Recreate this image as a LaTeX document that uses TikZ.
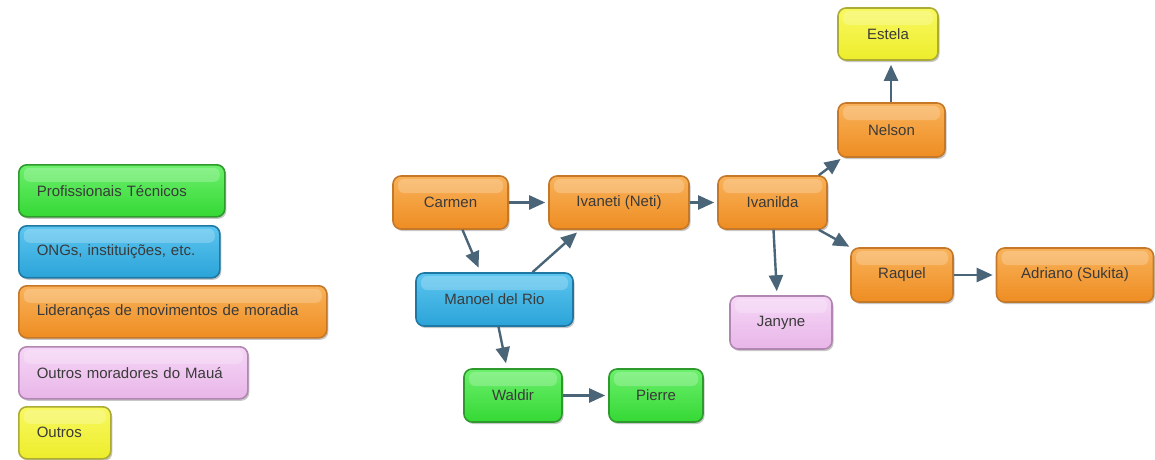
\documentclass[tikz,border=0pt]{standalone}
\usepackage{fontspec}
\setmainfont{Liberation Sans}
\usetikzlibrary{arrows.meta,shadows,calc}
\definecolor{txt}{HTML}{3A3A3A}
\definecolor{arr}{HTML}{4B6578}
\definecolor{orT}{HTML}{F9B25A}\definecolor{orB}{HTML}{EE8D22}\definecolor{orD}{HTML}{C47828}
\definecolor{grT}{HTML}{6CF06C}\definecolor{grB}{HTML}{35D835}\definecolor{grD}{HTML}{2E9A2E}
\definecolor{blT}{HTML}{5CC6F0}\definecolor{blB}{HTML}{2BA3D8}\definecolor{blD}{HTML}{1F78A3}
\definecolor{piT}{HTML}{F6D6F6}\definecolor{piB}{HTML}{E8B6E8}\definecolor{piD}{HTML}{B087B0}
\definecolor{yeT}{HTML}{F8F860}\definecolor{yeB}{HTML}{EDED2C}\definecolor{yeD}{HTML}{ABAB35}
\tikzset{
  box/.style={rounded corners=8pt, line width=1.6pt, text=txt,
    font=\fontsize{15}{18}\selectfont, inner sep=0pt,
    drop shadow={shadow xshift=1.5pt,shadow yshift=-2pt,opacity=0.22,fill=black},
    path picture={\fill[white,opacity=0.22,rounded corners=6pt]
      ([xshift=5pt,yshift=-3pt]path picture bounding box.north west) rectangle
      ([xshift=-5pt,yshift=-17pt]path picture bounding box.north east);}},
  orbox/.style={box, draw=orD, top color=orT, bottom color=orB},
  grbox/.style={box, draw=grD, top color=grT, bottom color=grB},
  blbox/.style={box, draw=blD, top color=blT, bottom color=blB},
  pibox/.style={box, draw=piD, top color=piT, bottom color=piB},
  yebox/.style={box, draw=yeD, top color=yeT, bottom color=yeB},
  leg/.style={anchor=north west, align=left, inner xsep=18pt, minimum height=52pt, text width=#1},
  conn/.style={draw=arr, line width=2.4pt, -{Triangle[length=16pt,width=14pt]}}
}
\begin{document}
\begin{tikzpicture}[x=1pt,y=-1pt]
\useasboundingbox (0,0) rectangle (1155,459);
% legend
\node[grbox, leg=170pt] (l1) at (18,164) {Profissionais Técnicos};
\node[blbox, leg=165pt] (l2) at (18,225) {ONGs, instituições, etc.};
\node[orbox, leg=272pt] (l3) at (18,285) {Lideranças de movimentos de moradia};
\node[pibox, leg=193pt] (l4) at (18,346) {Outros moradores do Mauá};
\node[yebox, leg=56pt] (l5) at (18,406) {Outros};
% graph
\node[orbox, minimum width=115pt, minimum height=53pt] (carmen) at (450.5,202.5) {Carmen};
\node[orbox, minimum width=140pt, minimum height=53pt] (ivaneti) at (619,202.5) {Ivaneti (Neti)};
\node[orbox, minimum width=109pt, minimum height=53pt] (ivanilda) at (772.5,202.5) {Ivanilda};
\node[blbox, minimum width=157pt, minimum height=53pt] (manoel) at (494.5,299.5) {Manoel del Rio};
\node[grbox, minimum width=98pt, minimum height=53pt] (waldir) at (513,395.5) {Waldir};
\node[grbox, minimum width=94pt, minimum height=53pt] (pierre) at (656,395.5) {Pierre};
\node[pibox, minimum width=102pt, minimum height=53pt] (janyne) at (781,322.5) {Janyne};
\node[yebox, minimum width=100pt, minimum height=52pt] (estela) at (888,34) {Estela};
\node[orbox, minimum width=107pt, minimum height=54pt] (nelson) at (891.5,130) {Nelson};
\node[orbox, minimum width=102pt, minimum height=54pt] (raquel) at (902,275) {Raquel};
\node[orbox, minimum width=157pt, minimum height=54pt] (adriano) at (1075,275) {Adriano (Sukita)};
% connectors
\draw[conn, shorten >=3pt] (carmen.east) -- (ivaneti.west);
\draw[conn, shorten >=3pt] (ivaneti.east) -- (ivanilda.west);
\draw[conn, shorten >=5pt] ([xshift=12pt]carmen.south) -- ([xshift=-14pt]manoel.north);
\draw[conn, shorten >=4pt] ([xshift=38pt]manoel.north) -- ([xshift=-39pt]ivaneti.south);
\draw[conn, shorten >=5pt] ([xshift=4pt]manoel.south) -- ([xshift=-6pt]waldir.north);
\draw[conn, shorten >=3pt] (waldir.east) -- (pierre.west);
\draw[conn, shorten >=4pt] ([xshift=1pt]ivanilda.south) -- ([xshift=-4pt]janyne.north);
\draw[conn, shorten >=2pt] ([xshift=-9pt]ivanilda.north east) -- ([xshift=5pt]nelson.south west);
\draw[conn, shorten >=1pt] ([xshift=-9pt]ivanilda.south east) -- (raquel.north west);
\draw[conn, shorten >=4pt] ([xshift=-0.5pt]nelson.north) -- ([xshift=3pt]estela.south);
\draw[conn, shorten >=3pt] (raquel.east) -- (adriano.west);
\end{tikzpicture}
\end{document}
